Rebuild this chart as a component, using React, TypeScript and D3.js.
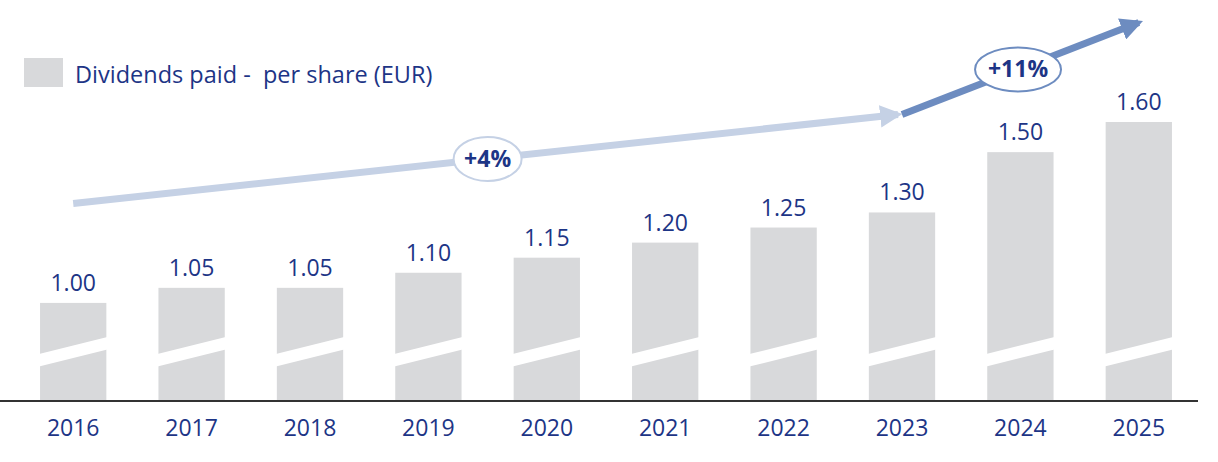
import * as d3 from "d3";

const W = 1218;
const H = 462;
const MARGIN = { top: 122, bottom: 62, left: 14, right: 20 };

const years = ["2016", "2017", "2018", "2019", "2020", "2021", "2022", "2023", "2024", "2025"];
const dividends = [1.0, 1.05, 1.05, 1.1, 1.15, 1.2, 1.25, 1.3, 1.5, 1.6];
const valueLabels = ["1.00", "1.05", "1.05", "1.10", "1.15", "1.20", "1.25", "1.30", "1.50", "1.60"];

// trend arrows: from/to category and level on the value scale
const trendFrom = ["2016", "2023"];
const trendTo = ["2023", "2025"];
const trendStartLevel = [1.33, 1.625];
const trendEndLevel = [1.625, 1.93];
const trendLabels = ["+4%", "+11%"];
const trendColors = ["#c5d1e5", "#6d8cc0"];

const NAVY = "#1d3586";
const BAR = "#d8d9db";
const FONT = "'Open Sans', sans-serif";

// axis is broken: the baseline does not sit at zero
const BASE_VALUE = 0.678;

export default function App() {
  const baseline = H - MARGIN.bottom;

  const x = d3
    .scaleBand()
    .domain(years)
    .range([MARGIN.left, W - MARGIN.right])
    .paddingInner(0.44)
    .paddingOuter(0.22);

  const y = d3.scaleLinear().domain([BASE_VALUE, 1.6]).range([baseline, MARGIN.top]);

  const bw = x.bandwidth();
  const cx = (c: string) => (x(c) ?? 0) + bw / 2;

  return (
    <div style={{ position: "absolute", left: 0, top: 0 }}>
      <svg width={W} height={H} style={{ display: "block", background: "#fff" }}>
        <defs>
          {trendColors.map((c, i) => (
            <marker
              key={i}
              id={`head${i}`}
              viewBox="0 0 10 10"
              refX={8}
              refY={5}
              markerWidth={3.2}
              markerHeight={3.2}
              orient="auto"
              markerUnits="strokeWidth"
            >
              <path d="M0,0 L10,5 L0,10 Z" fill={c} />
            </marker>
          ))}
        </defs>

        {/* legend */}
        <rect x={24} y={58} width={39} height={29} fill={BAR} />
        <text x={75} y={83} fill={NAVY} fontFamily={FONT} fontSize={23.5}>
          Dividends paid -{"\u00a0\u00a0"}per share (EUR)
        </text>

        {/* bars with break */}
        {years.map((yr, i) => {
          const x0 = x(yr) ?? 0;
          const x1 = x0 + bw;
          const top = y(dividends[i]);
          return (
            <g key={yr}>
              <rect x={x0} y={top} width={bw} height={baseline - top} fill={BAR} />
              <polygon
                points={`${x0 - 1},${baseline - 46} ${x1 + 1},${baseline - 63} ${x1 + 1},${baseline - 50.5} ${x0 - 1},${baseline - 33.5}`}
                fill="#fff"
              />
              <text
                x={cx(yr)}
                y={top - 12}
                textAnchor="middle"
                fill={NAVY}
                fontFamily={FONT}
                fontSize={23}
              >
                {valueLabels[i]}
              </text>
              <text
                x={cx(yr)}
                y={baseline + 36}
                textAnchor="middle"
                fill={NAVY}
                fontFamily={FONT}
                fontSize={23}
              >
                {yr}
              </text>
            </g>
          );
        })}

        {/* axis line */}
        <line x1={0} x2={1198} y1={baseline + 1} y2={baseline + 1} stroke="#333" strokeWidth={2} />

        {/* trend arrows */}
        {trendFrom.map((f, i) => (
          <line
            key={`a${i}`}
            x1={cx(f)}
            y1={y(trendStartLevel[i])}
            x2={cx(trendTo[i]) - (i === 0 ? 4 : 0)}
            y2={y(trendEndLevel[i])}
            stroke={trendColors[i]}
            strokeWidth={7}
            markerEnd={`url(#head${i})`}
          />
        ))}
        {trendFrom.map((f, i) => {
          const x1 = cx(f);
          const y1 = y(trendStartLevel[i]);
          const x2 = cx(trendTo[i]);
          const y2 = y(trendEndLevel[i]);
          const t = i === 0 ? 0.5 : 0.49;
          const ex = x1 + (x2 - x1) * t;
          const ey = y1 + (y2 - y1) * t;
          const rx = i === 0 ? 34 : 43;
          return (
            <g key={`e${i}`}>
              <ellipse cx={ex} cy={ey} rx={rx} ry={22} fill="#fff" stroke={trendColors[i]} strokeWidth={2} />
              <text
                x={ex}
                y={ey + 8}
                textAnchor="middle"
                fill={NAVY}
                fontFamily={FONT}
                fontWeight={700}
                fontSize={23}
              >
                {trendLabels[i]}
              </text>
            </g>
          );
        })}
      </svg>
    </div>
  );
}
